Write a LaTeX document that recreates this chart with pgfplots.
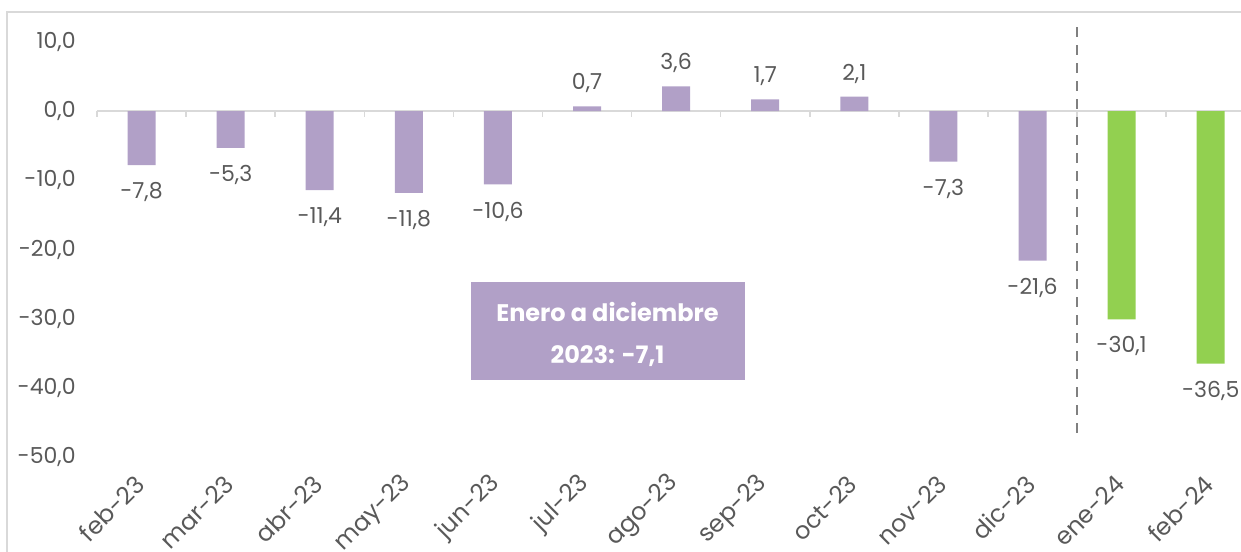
\documentclass[border=0pt]{standalone}
\usepackage{pgfplots}
\pgfplotsset{compat=1.18}
\usepackage{fontspec}
\setmainfont{Poppins}
\definecolor{lila}{HTML}{B1A0C7}
\definecolor{verde}{HTML}{92D050}
\definecolor{txt}{HTML}{595959}
\definecolor{frm}{HTML}{D9D9D9}
\definecolor{dsh}{HTML}{808080}
\begin{document}
\begin{tikzpicture}
\path[use as bounding box] (0pt,0pt) rectangle (620.5pt,275.5pt);
\draw[frm, line width=0.75pt] (3.5pt,-5pt) -- (3.5pt,269.5pt) -- (630pt,269.5pt);
\begin{axis}[
  at={(48.5pt,47pt)}, anchor=south west,
  scale only axis, width=572pt, height=207.5pt,
  xmin=-0.5, xmax=12.34, ymin=-50, ymax=10,
  axis line style={draw=none},
  tick style={draw=none},
  ytick={-50,-40,-30,-20,-10,0,10},
  yticklabels={{-50,0},{-40,0},{-30,0},{-20,0},{-10,0},{0,0},{10,0}},
  xtick={0,...,12},
  xticklabels={feb-23,mar-23,abr-23,may-23,jun-23,jul-23,ago-23,sep-23,oct-23,nov-23,dic-23,ene-24,feb-24},
  clip=false,
  yticklabel style={font=\fontsize{11}{13}\selectfont, text=txt, anchor=east, inner sep=0pt, xshift=-10.5pt},
  xticklabel style={font=\fontsize{12}{14}\selectfont, text=txt, xshift=-0.65pt, yshift=-11.35pt, rotate=45, anchor=east, inner sep=0pt},
  bar width=14pt,
  point meta=explicit symbolic,
  neg/.style={every node near coord/.append style={anchor=north, font=\fontsize{11}{13}\selectfont, text=txt, inner xsep=0pt, inner ysep=8.5pt}},
  pos/.style={every node near coord/.append style={anchor=south, font=\fontsize{11}{13}\selectfont, text=txt, inner xsep=0pt, inner ysep=6.5pt}},
]
\draw[frm, line width=0.75pt] (axis cs:-0.5,0) -- (axis cs:12.34,0);
\pgfplotsinvokeforeach{-0.5,0.5,1.5,2.5,3.5,4.5,5.5,6.5,7.5,8.5,9.5,10.5,11.5}{\draw[frm, line width=0.75pt] (axis cs:#1,0) -- ([yshift=-3pt]axis cs:#1,0);}
\addplot[ybar, bar shift=0pt, fill=lila, draw=none, nodes near coords, neg]
 coordinates {(0,-7.8) [-7,8] (1,-5.3) [-5,3] (2,-11.4) [-11,4] (3,-11.8) [-11,8] (4,-10.6) [-10,6] (9,-7.3) [-7,3] (10,-21.6) [-21,6]};
\addplot[ybar, bar shift=0pt, fill=lila, draw=none, nodes near coords, pos]
 coordinates {(5,0.7) [0,7] (6,3.6) [3,6] (7,1.7) [1,7] (8,2.1) [2,1]};
\addplot[ybar, bar shift=0pt, fill=verde, draw=none, nodes near coords, neg]
 coordinates {(11,-30.1) [-30,1] (12,-36.5) [-36,5]};
\addplot[sharp plot, dsh, line width=1pt, dash pattern=on 5pt off 4pt, forget plot]
 coordinates {(10.5,12.1) (10.5,-47.1)};
\node[fill=lila, minimum width=137pt, minimum height=49pt, inner sep=0pt]
  at (axis cs:5.23,-31.8) {};
\node[text=white, font=\bfseries\fontsize{12}{21}\selectfont, align=center, inner sep=0pt]
  at (axis cs:5.23,-32.3) {Enero a diciembre\\2023: -7,1};
\end{axis}
\end{tikzpicture}
\end{document}
